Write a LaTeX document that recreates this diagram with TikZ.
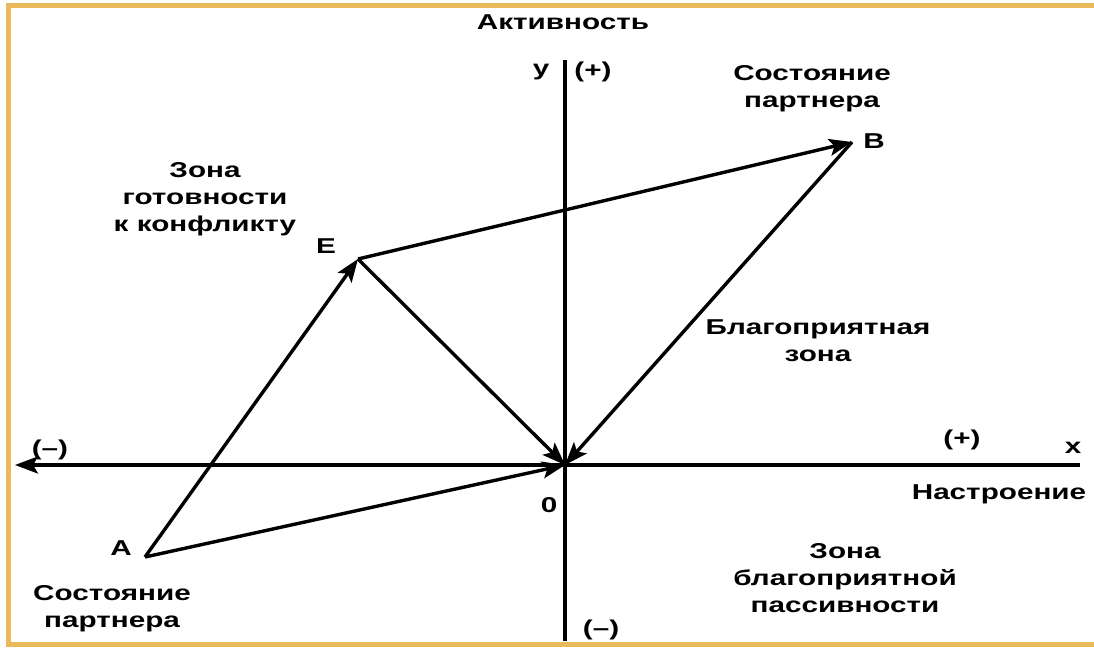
\documentclass[tikz,border=0pt]{standalone}
\usepackage{fontspec}
\setsansfont{Liberation Sans}[FakeStretch=1.38]
\usetikzlibrary{arrows.meta}
\definecolor{frameGold}{RGB}{234,186,92}
\tikzset{
    font=\sffamily\bfseries\fontsize{21.5}{27}\selectfont,
    >={Stealth[length=23pt,width=17pt,inset=5pt]},
    % Lines
    axis/.style={line width=3.4pt, black},
    vec/.style={->, line width=3.4pt, black},
    % Labels
    lbl/.style={align=center, inner sep=0pt, text=black}
}
\begin{document}
\begin{tikzpicture}[x=1pt, y=-1pt]
\useasboundingbox (0,0) rectangle (1094,648);

% Frame
\draw[frameGold, line width=5pt] (8,5) rectangle (1110,644);

% Axes
\coordinate (O) at (565,465);
\coordinate (xL) at (15,465);
\coordinate (xR) at (1080,465);
\coordinate (yT) at (565,60);
\coordinate (yB) at (565,641);
\draw[axis, <-] (xL) -- (xR);
\draw[axis] (yT) -- (yB);

% States
\coordinate (A) at (145,557);
\coordinate (E) at (358,259);
\coordinate (B) at (852,142);

\draw[vec] (A) -- (E);
\draw[vec] (E) -- (O);
\draw[vec] (A) -- (O);
\draw[vec] (E) -- (B);
\draw[vec] (B) -- (O);

% Point labels
\node[lbl] (lblA) at (121,548) {A};
\node[lbl] (lblE) at (326,246) {E};
\node[lbl] (lblB) at (874,141) {B};
\node[lbl] (lblO) at (549,505) {0};

% Axis labels
\node[lbl] (act) at (563,22) {Активность};
\node[lbl] (ylbl) at (541,72) {y};
\node[lbl] (yplus) at (593,72) {(+)};
\node[lbl] (yminus) at (601,630) {(--)};
\node[lbl] (xminus) at (50,450) {(--)};
\node[lbl] (xplus) at (962,440) {(+)};
\node[lbl] (xlbl) at (1073,448) {x};
\node[lbl] (mood) at (999,494) {Настроение};

% Zones
\node[lbl] (stateB) at (812,89) {Состояние\\партнера};
\node[lbl] (zoneConf) at (205,199) {Зона\\готовности\\к конфликту};
\node[lbl] (zoneGood) at (818,341) {Благоприятная\\зона};
\node[lbl] (zonePass) at (845,578) {Зона\\благоприятной\\пассивности};
\node[lbl] (stateA) at (112,609) {Состояние\\партнера};

\end{tikzpicture}
\end{document}
